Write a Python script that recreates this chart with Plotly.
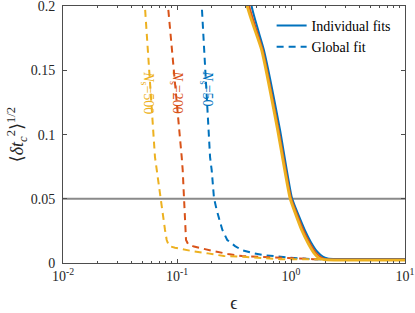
import math
import plotly.graph_objects as go

BLUE, RED, YEL = "#0072BD", "#D95319", "#EDB120"
SERIF = "'Liberation Serif', Tinos, 'Times New Roman', 'Noto Serif', 'DejaVu Serif', serif"

# Global fit (dashed) curves
g50_eps = [0.150, 0.165, 0.195, 0.2015, 0.211, 0.223, 0.250, 0.276, 0.323, 0.369, 0.45, 0.567, 0.92, 1.47, 3.0, 10]
g50_val = [0.30, 0.20, 0.0825, 0.0724, 0.0506, 0.0412, 0.0257, 0.0179, 0.0132, 0.0101, 0.0080, 0.0062, 0.0044, 0.0030, 0.0028, 0.0028]
g200_eps = [0.080, 0.0834, 0.110, 0.1122, 0.1152, 0.1175, 0.120, 0.125, 0.141, 0.199, 0.280, 0.372, 0.567, 1.56, 10]
g200_val = [0.30, 0.20, 0.0825, 0.0724, 0.0506, 0.0257, 0.0179, 0.0148, 0.0128, 0.0097, 0.0070, 0.0054, 0.0047, 0.0030, 0.0028]
g500_eps = [0.050, 0.0523, 0.0641, 0.0664, 0.0709, 0.0785, 0.0812, 0.0851, 0.0960, 0.1355, 0.187, 0.258, 0.408, 0.80, 10]
g500_val = [0.30, 0.20, 0.0825, 0.0724, 0.0506, 0.0257, 0.0179, 0.0132, 0.0119, 0.0093, 0.0075, 0.0054, 0.0047, 0.0030, 0.0028]

# Individual fits (solid) curves
i50_eps = [0.40, 0.452, 0.579, 0.802, 1.02, 1.32, 1.50, 1.70, 1.90, 2.10, 2.5, 10]
i50_val = [0.30, 0.20, 0.1658, 0.1035, 0.0506, 0.0257, 0.0160, 0.0088, 0.0050, 0.0036, 0.0032, 0.0032]
i200_eps = [0.38, 0.431, 0.565, 0.780, 1.00, 1.28, 1.46, 1.65, 1.83, 2.00, 2.4, 10]
i200_val = [0.30, 0.20, 0.1658, 0.1035, 0.0506, 0.0257, 0.0155, 0.0080, 0.0044, 0.0030, 0.0027, 0.0027]
i500_eps = [0.37, 0.414, 0.553, 0.764, 0.98, 1.24, 1.42, 1.60, 1.75, 1.95, 2.4, 10]
i500_val = [0.30, 0.20, 0.1658, 0.1035, 0.0506, 0.0257, 0.0150, 0.0075, 0.0040, 0.0026, 0.0023, 0.0023]

THRESHOLD = 0.05
labels = ["<i>N</i><sub>s</sub>=50", "<i>N</i><sub>s</sub>=200", "<i>N</i><sub>s</sub>=500"]
label_x = [0.183, 0.0993, 0.0557]
label_y = [0.136, 0.133, 0.133]

x_tickvals = [0.01, 0.1, 1, 10]
x_ticktext = ["10<sup>-2</sup>", "10<sup>-1</sup>", "10<sup>0</sup>", "10<sup>1</sup>"]
y_tickvals = [0, 0.05, 0.1, 0.15, 0.2]
y_ticktext = ["0", "0.05", "0.1", "0.15", "0.2"]
minor_vals = [m * 10 ** e for e in (-2, -1, 0) for m in range(2, 10)]

DASH = "7px,5px"
fig = go.Figure()

fig.add_trace(go.Scatter(x=[0.01, 10], y=[THRESHOLD, THRESHOLD], mode="lines",
                         line=dict(color="#8a8a8a", width=2), showlegend=False, hoverinfo="skip"))

for ex, vy, col, name, show in [(g50_eps, g50_val, BLUE, "Global fit", True),
                               (g200_eps, g200_val, RED, None, False),
                               (g500_eps, g500_val, YEL, None, False)]:
    fig.add_trace(go.Scatter(x=ex, y=vy, mode="lines", name=name, showlegend=show,
                             line=dict(color=col, width=2, dash=DASH)))

for ex, vy, col, name, show, w in [(i50_eps, i50_val, BLUE, "Individual fits", True, 2),
                                  (i200_eps, i200_val, RED, None, False, 2),
                                  (i500_eps, i500_val, YEL, None, False, 2.8)]:
    fig.add_trace(go.Scatter(x=ex, y=vy, mode="lines", name=name, showlegend=show,
                             line=dict(color=col, width=w, shape="spline", smoothing=0.4)))

for t, xx, yy, col in zip(labels, label_x, label_y, [BLUE, RED, YEL]):
    fig.add_annotation(x=math.log10(xx), y=yy, text=t, textangle=90, showarrow=False,
                       font=dict(family=SERIF, size=14, color=col),
                       xanchor="center", yanchor="middle")

# y-axis title as a rotated annotation
fig.add_annotation(xref="paper", yref="paper", x=-0.135, y=0.5, xanchor="center", yanchor="middle",
                   text="⟨<i>δt</i><sub><i>c</i></sub><sup>2</sup>⟩<sup>1/2</sup>", textangle=-90,
                   showarrow=False, font=dict(family=SERIF, size=18, color="#262626"))

axis_common = dict(showline=True, linecolor="#4d4d4d", linewidth=1, mirror="ticks",
                   ticks="inside", ticklen=4, tickcolor="#4d4d4d", showgrid=False, zeroline=False,
                   automargin=False, ticklabeloverflow="allow",
                   tickfont=dict(family=SERIF, size=14, color="#262626"))

fig.update_xaxes(type="log", range=[-2, 1], tickvals=x_tickvals, ticktext=x_ticktext,
                 minor=dict(ticks="inside", ticklen=2, tickvals=minor_vals, tickcolor="#4d4d4d"),
                 title=dict(text="ϵ", font=dict(family=SERIF, size=18, color="#262626"), standoff=24),
                 **axis_common)
fig.update_yaxes(range=[0, 0.2002], tickvals=y_tickvals, ticktext=y_ticktext,
                 ticklabelstandoff=4, **axis_common)

fig.update_layout(width=415, height=313, margin=dict(l=63, r=10, t=6, b=50),
                  plot_bgcolor="white", paper_bgcolor="white",
                  font=dict(family=SERIF),
                  legend=dict(x=0.61, y=0.985, xanchor="left", yanchor="top", bgcolor="rgba(0,0,0,0)",
                              font=dict(family=SERIF, size=14, color="#000"),
                              traceorder="reversed", tracegroupgap=0, itemwidth=30))

fig.write_html("out.html", config={"displayModeBar": False},
               post_script="document.body.style.margin='0';document.body.style.padding='0';")
